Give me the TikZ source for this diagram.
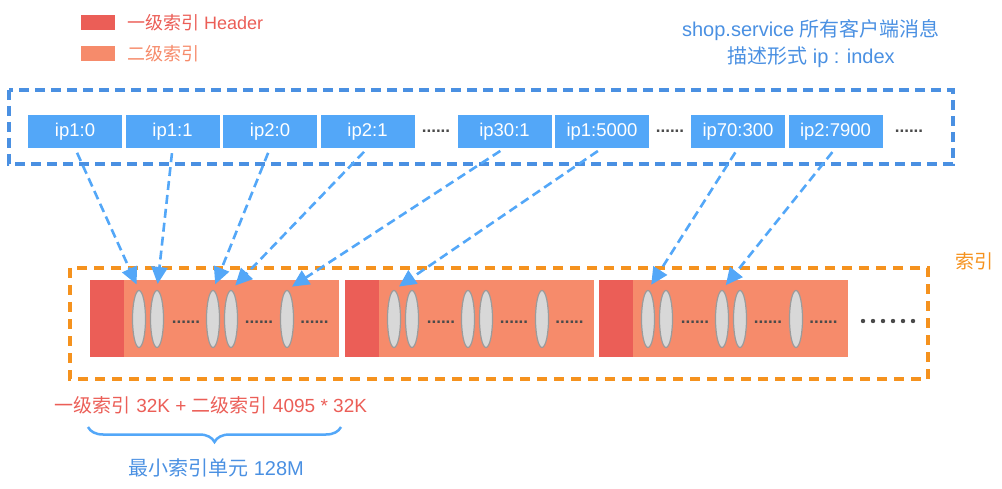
\documentclass[tikz,border=0pt]{standalone}
\usepackage{fontspec}
\setmainfont{Liberation Sans}
\newfontfamily\cjk{Noto Sans CJK SC}
\usetikzlibrary{positioning, arrows.meta, shapes.geometric, decorations.pathreplacing}

\definecolor{hdrred}{HTML}{EB5E57}
\definecolor{secorange}{HTML}{F68B6B}
\definecolor{ipblue}{HTML}{53A7F8}
\definecolor{frameblue}{HTML}{4A90E2}
\definecolor{frameorange}{HTML}{F5921E}
\definecolor{slotgray}{HTML}{D8D8D8}
\definecolor{slotedge}{HTML}{9B9B9B}
\definecolor{dotgray}{HTML}{4A4A4A}

\begin{document}
\begin{tikzpicture}
    [
        x=1pt, y=-1pt, node distance=97.5pt, on grid,
        ip_node/.style={rectangle, fill=ipblue, text=white, minimum width=94pt, minimum height=33pt, inner sep=0pt, font=\fontsize{18.5}{18}\selectfont},
        hdr_node/.style={rectangle, fill=hdrred, minimum width=34pt, minimum height=77pt, inner sep=0pt, anchor=north west},
        sec_node/.style={rectangle, fill=secorange, minimum width=215pt, minimum height=77pt, inner sep=0pt, anchor=north west},
        slot_node/.style={ellipse, draw=slotedge, fill=slotgray, line width=1.2pt, minimum width=13pt, minimum height=57pt, inner sep=0pt},
        dot_text/.style={text=dotgray, inner sep=0pt, font=\bfseries\fontsize{17}{18}\selectfont},
        link/.style={-{Triangle[length=17pt, width=16pt]}, draw=ipblue, line width=2.6pt, dash pattern=on 9pt off 5pt, shorten <=5pt, shorten >=6pt},
    ]
        \useasboundingbox (0,0) rectangle (1002,489);

        % legend
        \node[rectangle, fill=hdrred, minimum width=34pt, minimum height=15pt, inner sep=0pt] (leg1) at (98,22.5) {};
        \node[rectangle, fill=secorange, minimum width=34pt, minimum height=15pt, inner sep=0pt] (leg2) at (98,53.5) {};
        \node[anchor=west, inner sep=0pt, text=hdrred, font=\fontsize{18}{18}\selectfont] (leg1txt) at (127,22.5) {{\cjk 一级索引} Header};
        \node[anchor=west, inner sep=0pt, text=secorange, font=\fontsize{18}{18}\selectfont] (leg2txt) at (127,53.5) {{\cjk 二级索引}};

        \node[align=center, inner sep=0pt, text=frameblue, font=\fontsize{20}{27}\selectfont] (title) at (811,43.5) {shop.service {\cjk 所有客户端消息}\\{\cjk 描述形式} ip : index};

        % client messages
        \draw[frameblue, line width=3.5pt, dash pattern=on 10pt off 6pt] (9,90) rectangle (953,164);
        \node[ip_node] (ip10) at (75,131.5) {ip1:0};
        \node[ip_node] (ip11) [right = of ip10] {ip1:1};
        \node[ip_node] (ip20) [right = of ip11] {ip2:0};
        \node[ip_node] (ip21) [right = of ip20] {ip2:1};
        \node[dot_text] (dots1) [right = 68.5pt of ip21] {......};
        \node[ip_node] (ip301) [right = 68.5pt of dots1] {ip30:1};
        \node[ip_node] (ip15000) [right = of ip301] {ip1:5000};
        \node[dot_text] (dots2) [right = 68pt of ip15000] {......};
        \node[ip_node] (ip70300) [right = 68pt of dots2] {ip70:300};
        \node[ip_node] (ip27900) [right = of ip70300] {ip2:7900};
        \node[dot_text] (dots3) [right = 73.5pt of ip27900] {......};

        % index
        \draw[frameorange, line width=3.5pt, dash pattern=on 10pt off 7pt] (70,268) rectangle (928,379);
        \node[inner sep=0pt, text=frameorange, font=\fontsize{19}{19}\selectfont] (idxtxt) at (974,261) {\cjk 索引};
        \foreach \b/\x in {1/90, 2/345, 3/599} {
            \node[hdr_node] (h\b) at (\x,280) {};
            \node[sec_node] (s\b) at (\x+34,280) {};
            \foreach \i/\dx in {1/49, 2/67, 3/123, 4/141, 5/197}
                \node[slot_node] (e\b\i) at (\x+\dx,319) {};
            \node[dot_text] (d\b1) at (\x+96,322) {......};
            \node[dot_text] (d\b2) at (\x+169,322) {......};
            \node[dot_text] (d\b3) at (\x+224.5,322) {......};
        }
        \foreach \k in {0,...,5}
            \fill[dotgray] (863+\k*10,321) circle (2.2pt);

        \draw[link] (ip10.south) -- (e11.north);
        \draw[link] (ip11.south) -- (e12.north);
        \draw[link] (ip20.south) -- (e13.north);
        \draw[link] (ip21.south) -- (e14.north);
        \draw[link] (ip301.south) -- (e15.north);
        \draw[link] (ip15000.south) -- (e21.north);
        \draw[link] (ip70300.south) -- (e31.north);
        \draw[link] (ip27900.south) -- (e33.north);

        % unit size
        \node[inner sep=0pt, text=hdrred, font=\fontsize{19}{19}\selectfont] (formula) at (211,405) {{\cjk 一级索引} 32K + {\cjk 二级索引} 4095 * 32K};
        \coordinate (brl) at (88,427);
        \coordinate (brr) at (341,427);
        \draw[ipblue, line width=2.5pt, decorate, decoration={brace, mirror, amplitude=15pt}] (brl) -- (brr);
        \node[inner sep=0pt, text=frameblue, font=\fontsize{20}{20}\selectfont] (unit) at (216,468) {{\cjk 最小索引单元} 128M};
    \end{tikzpicture}
\end{document}
